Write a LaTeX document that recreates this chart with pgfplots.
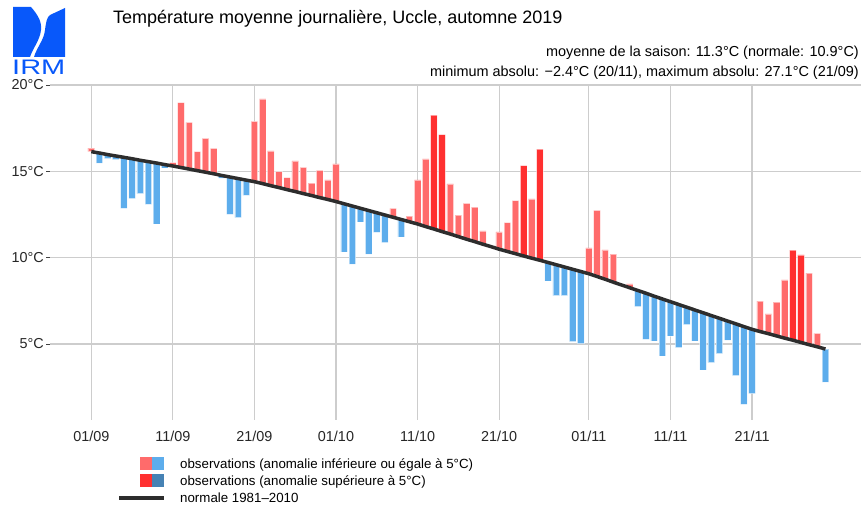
\documentclass[border=0pt]{standalone}
\usepackage{fontspec}
\setmainfont{Liberation Sans}
\usepackage{graphicx}
\usepackage{pgfplots}
\usepackage{pgfplotstable}
\pgfplotsset{compat=1.18}
\definecolor{redlight}{RGB}{255,107,107}
\definecolor{redbright}{RGB}{255,48,48}
\definecolor{bluelight}{RGB}{93,173,236}
\definecolor{bluedark}{RGB}{70,130,180}
\definecolor{normline}{RGB}{45,45,45}
\definecolor{gridgray}{RGB}{205,205,205}
\definecolor{irmblue}{RGB}{8,88,250}

% d = day index (0 = 01/09), obs = observed daily mean, norm = normal 1981-2010,
% cat: 1 = above normal (<=5), 2 = above normal (>5), 3 = below normal (<=5), 4 = below (>5)
\pgfplotstableread{
d obs norm cat
0 16.35 16.14 1
1 15.47 16.06 3
2 15.73 15.97 3
3 15.68 15.89 3
4 12.86 15.81 3
5 13.42 15.73 3
6 13.71 15.64 3
7 13.09 15.56 3
8 11.95 15.48 3
9 15.20 15.39 3
10 15.50 15.31 1
11 18.98 15.22 1
12 17.84 15.13 1
13 16.14 15.04 1
14 16.91 14.95 1
15 16.33 14.86 1
16 14.60 14.76 3
17 12.51 14.67 3
18 12.32 14.58 3
19 13.61 14.49 3
20 17.90 14.40 1
21 19.20 14.29 1
22 16.18 14.17 1
23 14.98 14.06 1
24 14.63 13.94 1
25 15.60 13.83 1
26 15.23 13.71 1
27 14.31 13.60 1
28 15.06 13.48 1
29 14.50 13.37 1
30 15.43 13.25 1
31 10.33 13.12 3
32 9.63 12.99 3
33 12.07 12.86 3
34 10.21 12.73 3
35 11.47 12.60 3
36 10.87 12.47 3
37 12.86 12.34 1
38 11.20 12.21 3
39 12.40 12.08 1
40 14.50 11.95 1
41 15.72 11.80 1
42 18.26 11.66 2
43 17.12 11.51 2
44 14.27 11.37 1
45 12.47 11.22 1
46 13.15 11.07 1
47 12.92 10.93 1
48 11.55 10.78 1
49 10.64 10.64 3
50 11.49 10.49 1
51 12.03 10.36 1
52 13.30 10.23 1
53 15.33 10.10 2
54 13.40 9.97 1
55 16.28 9.85 2
56 8.65 9.72 3
57 7.80 9.59 3
58 7.80 9.46 3
59 5.14 9.33 3
60 5.02 9.20 3
61 10.57 9.07 1
62 12.74 8.91 1
63 10.45 8.75 1
64 10.20 8.58 1
65 8.42 8.42 3
66 8.48 8.26 1
67 7.16 8.10 3
68 5.27 7.94 3
69 5.18 7.77 3
70 4.31 7.61 3
71 5.47 7.45 3
72 4.79 7.29 3
73 6.12 7.13 3
74 5.18 6.97 3
75 3.50 6.81 3
76 3.92 6.65 3
77 4.44 6.49 3
78 5.23 6.33 3
79 3.17 6.17 3
80 1.51 6.01 3
81 2.13 5.85 3
82 7.49 5.72 1
83 6.74 5.60 1
84 7.42 5.47 1
85 8.71 5.34 1
86 10.43 5.22 2
87 10.16 5.09 2
88 9.10 4.96 1
89 5.62 4.84 1
90 2.80 4.71 3
}\autumn

\pgfplotsset{
  samegeom/.style={
    at={(50pt,90pt)}, anchor=south west,
    scale only axis, width=811pt, height=335pt,
    xmin=-5.06, xmax=94.36, ymin=0.6, ymax=20,
  },
  catbar/.style={draw=white, draw opacity=0.5, line width=0.6pt},
}

\begin{document}
\begin{tikzpicture}
\useasboundingbox (0pt,0pt) rectangle (861pt,510pt);

% IRM logo
\fill[irmblue] (13pt,503pt) -- (31pt,503pt) .. controls (38pt,495pt) and (42pt,488pt) .. (41pt,480pt)
  .. controls (40pt,470pt) and (33pt,462pt) .. (30pt,453pt) -- (13pt,453pt) -- cycle;
\fill[irmblue] (65pt,502pt) -- (65pt,453pt) -- (34pt,453pt) .. controls (37pt,463pt) and (44pt,470pt) .. (45pt,480pt)
  .. controls (46pt,488pt) and (47pt,493pt) .. (50pt,495pt) -- cycle;
\node[anchor=base west, inner sep=0pt, text=irmblue, font=\fontsize{21}{21}\selectfont] at (12pt,435pt) {\scalebox{1.38}[1]{IRM}};

% titles
\node[anchor=base west, inner sep=0pt, font=\fontsize{18}{21}\selectfont] at (113pt,486.5pt)
  {Température moyenne journalière, Uccle, automne 2019};
\node[anchor=base east, inner sep=0pt, font=\fontsize{14.45}{17}\selectfont] at (859pt,453pt)
  {moyenne de la saison: 11.3°C (normale: 10.9°C)};
\node[anchor=base east, inner sep=0pt, font=\fontsize{14.45}{17}\selectfont] at (859pt,433pt)
  {minimum absolu: −2.4°C (20/11), maximum absolu: 27.1°C (21/09)};

\begin{axis}[
  samegeom,
  ybar stacked, bar width=6.6pt,
  axis line style={draw=none},
  xtick={0,10,20,30,40,50,61,71,81},
  xticklabels={01/09,11/09,21/09,01/10,11/10,21/10,01/11,11/11,21/11},
  ytick={5,10,15,20}, yticklabels={5°C,10°C,15°C,20°C},
  xmajorgrids, ymajorgrids,
  major grid style={gridgray, line width=1.2pt},
  tick align=outside, ytick pos=left, xtick pos=bottom,
  xtick style={draw=none},
  ytick style={draw=black!75, line width=0.8pt},
  major tick length=4pt,
  ticklabel style={font=\fontsize{14.4}{16}\selectfont, text=black!85},
  yticklabel style={inner sep=0pt, xshift=-2pt},
  xticklabel style={yshift=-4pt},
]
% invisible base: lower end of each bar
\addplot[draw=none, fill=none] table[x=d, y expr={min(\thisrow{obs},\thisrow{norm})}] {\autumn};
% coloured bars: height = |obs - norm|, one category each
\addplot[catbar, fill=redlight] table[x=d, y expr={\thisrow{cat}==1 ? abs(\thisrow{obs}-\thisrow{norm}) : 0}] {\autumn};
\addplot[catbar, fill=redbright] table[x=d, y expr={\thisrow{cat}==2 ? abs(\thisrow{obs}-\thisrow{norm}) : 0}] {\autumn};
\addplot[catbar, fill=bluelight] table[x=d, y expr={\thisrow{cat}==3 ? abs(\thisrow{obs}-\thisrow{norm}) : 0}] {\autumn};
\addplot[catbar, fill=bluedark] table[x=d, y expr={\thisrow{cat}==4 ? abs(\thisrow{obs}-\thisrow{norm}) : 0}] {\autumn};
\end{axis}

\begin{axis}[samegeom, hide axis]
\addplot[normline, line width=3.5pt, mark=none] table[x=d, y=norm] {\autumn};
\end{axis}

% legend
\fill[redlight] (140pt,39.5pt) rectangle (152pt,52.5pt);
\fill[bluelight] (152pt,39.5pt) rectangle (164pt,52.5pt);
\fill[redbright] (140pt,22.5pt) rectangle (152pt,35.5pt);
\fill[bluedark] (152pt,22.5pt) rectangle (164pt,35.5pt);
\draw[normline, line width=4pt] (119pt,12pt) -- (164pt,12pt);
\node[anchor=base west, inner sep=0pt, font=\fontsize{13.3}{15}\selectfont] at (180pt,41.2pt)
  {observations (anomalie inférieure ou égale à 5°C)};
\node[anchor=base west, inner sep=0pt, font=\fontsize{13.3}{15}\selectfont] at (180pt,24.2pt)
  {observations (anomalie supérieure à 5°C)};
\node[anchor=base west, inner sep=0pt, font=\fontsize{13.3}{15}\selectfont] at (180pt,7.2pt)
  {normale 1981–2010};
\end{tikzpicture}
\end{document}
